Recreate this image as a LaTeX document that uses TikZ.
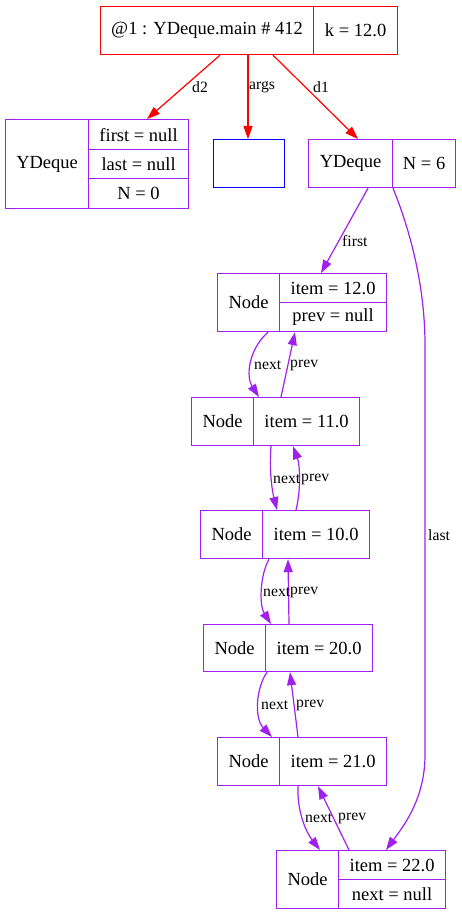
\documentclass[tikz,border=0pt]{standalone}
\usepackage{fontspec}
\setmainfont{Liberation Serif}
\usetikzlibrary{arrows.meta,calc}
\definecolor{gvpurple}{HTML}{A020F0}
\definecolor{gvred}{HTML}{FF0000}
\definecolor{gvblue}{HTML}{0000FF}
\begin{document}
\begin{tikzpicture}[x=1pt,y=-1pt,
  cell/.style={draw, line width=1.2pt, inner sep=0pt, anchor=north west, text=black, font=\fontsize{18.5}{20}\selectfont},
  pcell/.style={cell, draw=gvpurple},
  rcell/.style={cell, draw=gvred},
  bcell/.style={cell, draw=gvblue},
  edge/.style={line width=1.2pt, -{Triangle[length=13pt,width=9pt]}},
  pedge/.style={edge, draw=gvpurple},
  redge/.style={edge, draw=gvred},
  elabel/.style={anchor=west, inner sep=0pt, font=\fontsize{15.7}{17}\selectfont}
]
\useasboundingbox (0,0) rectangle (461,915);
\fill[white] (0,0) rectangle (461,915);

% top frame
\node[rcell, minimum width=213pt, minimum height=48pt] (t1) at (100,6) {@1 : YDeque.main \# 412};
\node[rcell, minimum width=84pt, minimum height=48pt] (t2) at (313,6) {k = 12.0};

% d2 YDeque
\node[pcell, minimum width=83pt, minimum height=89pt] (d2L) at (5,119) {YDeque};
\node[pcell, minimum width=100pt, minimum height=30pt] (d2a) at (88,119) {first = null};
\node[pcell, minimum width=100pt, minimum height=29pt] (d2b) at (88,149) {last = null};
\node[pcell, minimum width=100pt, minimum height=30pt] (d2c) at (88,178) {N = 0};

% args
\node[bcell, minimum width=71pt, minimum height=48pt] (ar) at (213,139) {};

% d1 YDeque
\node[pcell, minimum width=84pt, minimum height=48pt] (d1L) at (308,139) {YDeque};
\node[pcell, minimum width=63pt, minimum height=48pt] (d1R) at (392,139) {N = 6};

% nodes
\node[pcell, minimum width=62pt, minimum height=58pt] (n1L) at (217,273) {Node};
\node[pcell, minimum width=107pt, minimum height=29pt] (n1a) at (279,273) {item = 12.0};
\node[pcell, minimum width=107pt, minimum height=29pt] (n1b) at (279,302) {prev = null};

\node[pcell, minimum width=62pt, minimum height=48pt] (n2L) at (191,397) {Node};
\node[pcell, minimum width=106pt, minimum height=48pt] (n2R) at (253,397) {item = 11.0};

\node[pcell, minimum width=62pt, minimum height=48pt] (n3L) at (200,510) {Node};
\node[pcell, minimum width=107pt, minimum height=48pt] (n3R) at (262,510) {item = 10.0};

\node[pcell, minimum width=62pt, minimum height=47pt] (n4L) at (203,624) {Node};
\node[pcell, minimum width=107pt, minimum height=47pt] (n4R) at (265,624) {item = 20.0};

\node[pcell, minimum width=62pt, minimum height=48pt] (n5L) at (217,737) {Node};
\node[pcell, minimum width=107pt, minimum height=48pt] (n5R) at (279,737) {item = 21.0};

\node[pcell, minimum width=62pt, minimum height=58pt] (n6L) at (276,850) {Node};
\node[pcell, minimum width=107pt, minimum height=29pt] (n6a) at (338,850) {item = 22.0};
\node[pcell, minimum width=107pt, minimum height=29pt] (n6b) at (338,879) {next = null};

% red edges
\draw[redge] ($(t1.south west)+(120,0)$) -- ($(d2a.north west)+(59,0)$);
\draw[redge] ($(t1.south west)+(148,0)$) -- ($(ar.north west)+(35,0)$);
\draw[redge] ($(t1.south west)+(173,0)$) -- ($(d1L.north west)+(50,0)$);
\node[elabel] (ld2) at (192,87) {d2};
\node[elabel] (largs) at (249,87) {args};
\node[elabel] (ld1) at (313,87) {d1};

% first / last
\draw[pedge] ($(d1L.south west)+(60,0)$) -- ($(n1a.north west)+(42,0)$);
\node[elabel] (lfirst) at (342,241) {first};
\coordinate (lastA) at (425,345);
\coordinate (lastB) at (425,755);
\draw[pedge] ($(d1R.south west)+(1,0)$) .. controls (412,235) and (425,290) .. (lastA) -- (lastB) .. controls (425,800) and (402,828) .. ($(n6a.north west)+(48,0)$);
\node[elabel] (llast) at (428,535) {last};

% next / prev chain
\draw[pedge] ($(n1L.south west)+(51,0)$) .. controls (248,350) and (246,377) .. ($(n2R.north west)+(6,0)$);
\draw[pedge] ($(n2R.north west)+(28,0)$) -- ($(n1b.south west)+(16,0)$);
\node[elabel] (ln1) at (254,365) {next};
\node[elabel] (lp1) at (290,365) {prev};

\draw[pedge] ($(n2R.south west)+(18,0)$) .. controls (269,470) and (272,490) .. ($(n3R.north west)+(15,0)$);
\draw[pedge] ($(n3R.north west)+(34,0)$) .. controls (301,490) and (300,465) .. ($(n2R.south west)+(40,0)$);
\node[elabel] (ln2) at (273,479) {next};
\node[elabel] (lp2) at (301,479) {prev};

\draw[pedge] ($(n3R.south west)+(7,0)$) .. controls (260,575) and (259,605) .. ($(n4R.north west)+(6,0)$);
\draw[pedge] ($(n4R.north west)+(24,0)$) -- ($(n3R.south west)+(26,0)$);
\node[elabel] (ln3) at (263,592) {next};
\node[elabel] (lp3) at (290,592) {prev};

\draw[pedge] ($(n4R.south west)+(2,0)$) .. controls (256,688) and (254,718) .. ($(n5L.north west)+(55,0)$);
\draw[pedge] ($(n5R.north west)+(19,0)$) -- ($(n4R.south west)+(25,0)$);
\node[elabel] (ln4) at (261,705) {next};
\node[elabel] (lp4) at (296,705) {prev};

\draw[pedge] ($(n5R.south west)+(19,0)$) .. controls (297,812) and (306,832) .. ($(n6L.north west)+(44,0)$);
\draw[pedge] ($(n6a.north west)+(11,0)$) -- ($(n5R.south west)+(39,0)$);
\node[elabel] (ln5) at (305,818) {next};
\node[elabel] (lp5) at (338,818) {prev};
\end{tikzpicture}
\end{document}
